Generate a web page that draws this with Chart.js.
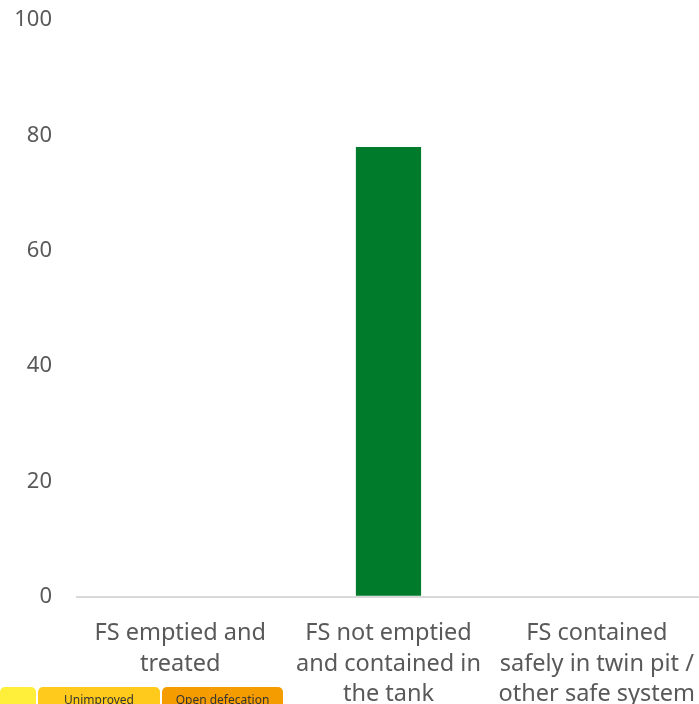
<!DOCTYPE html>
<html>
<head>
<meta charset="utf-8">
<script src="https://cdn.jsdelivr.net/npm/chart.js@4"></script>
<style>
  html, body { margin: 0; padding: 0; background: #fff; overflow: hidden; }
  #wrap { position: absolute; left: 0; top: 0; width: 709px; height: 723px; }
  .tab { position: absolute; top: 687px; height: 30px; border-radius: 5px 5px 0 0;
         font: 12px "Noto Sans", sans-serif; color: #333; text-align: center; line-height: 26px; }
</style>
</head>
<body>
<div id="wrap"><canvas id="chart"></canvas></div>
<div class="tab" style="left:0;width:36px;background:#ffef3a;"></div>
<div class="tab" style="left:38px;width:122px;background:#ffca1c;">Unimproved</div>
<div class="tab" style="left:162px;width:121px;background:#f59d00;">Open defecation</div>
<script>
const categories = [
  ["FS emptied and", "treated"],
  ["FS not emptied", "and contained in", "the tank"],
  ["FS contained", "safely in twin pit /", "other safe system"],
];
const values = [0, 78, 0];
const yTicks = [0, 20, 40, 60, 80, 100];

const textColor = "#595959";
const ctx = document.getElementById("chart");
const chart = new Chart(ctx, {
  type: "bar",
  data: {
    labels: categories,
    datasets: [{
      data: values,
      backgroundColor: "#007a2b",
      categoryPercentage: 1,
      barPercentage: 0.313,
    }],
  },
  options: {
    responsive: true,
    maintainAspectRatio: false,
    animation: false,
    layout: { padding: { left: 0, top: 20, right: 0, bottom: 0 } },
    plugins: { legend: { display: false }, tooltip: { enabled: false } },
    scales: {
      x: {
        grid: { display: false },
        border: { display: false },
        ticks: {
          color: textColor,
          font: { family: "Noto Sans", size: 23.5, lineHeight: 1.28 },
          maxRotation: 0,
          autoSkip: false,
          padding: 14,
        },
      },
      y: {
        min: 0,
        max: 100,
        afterBuildTicks: (axis) => { axis.ticks = yTicks.map((v) => ({ value: v })); },
        afterFit: (axis) => {
          axis.width = 76;
          axis.paddingTop = 0;
          axis.paddingBottom = 0;
        },
        grid: {
          color: (c) => (c.tick && c.tick.value === 0 ? "#d9d9d9" : "rgba(0,0,0,0)"),
          lineWidth: 2,
          drawTicks: false,
        },
        border: { display: false },
        ticks: {
          color: textColor,
          font: { family: "Noto Sans", size: 22 },
          padding: 24,
        },
      },
    },
  },
});
</script>
</body>
</html>
